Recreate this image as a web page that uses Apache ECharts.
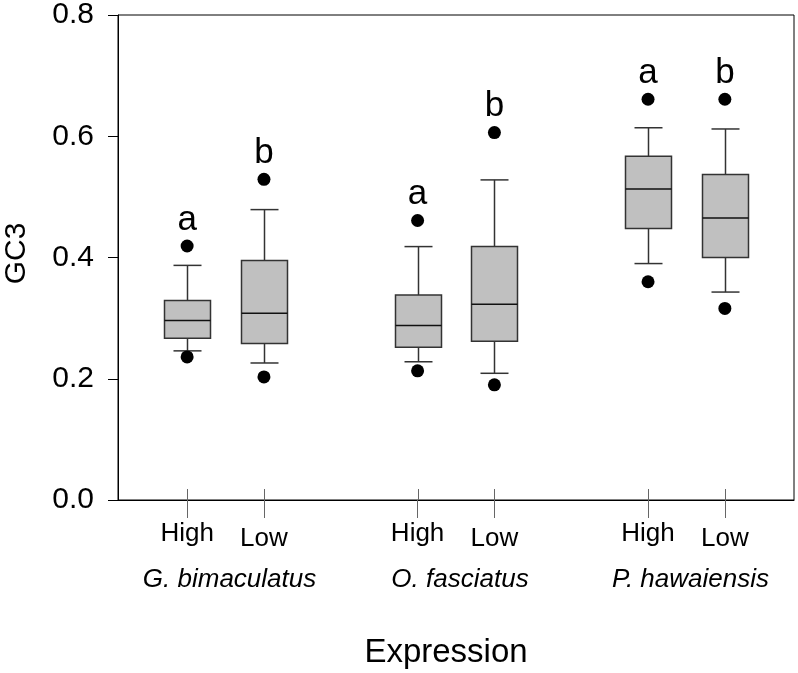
<!DOCTYPE html>
<html>
<head>
<meta charset="utf-8">
<script src="https://cdn.jsdelivr.net/npm/echarts@6/dist/echarts.min.js"></script>
<style>html,body{margin:0;padding:0;background:#fff}#chart{width:798px;height:673px}</style>
</head>
<body>
<div id="chart"></div>
<script>
// ---- data ----
const positions = [1, 2, 4, 5, 7, 8];
const boxLabels = ['High', 'Low', 'High', 'Low', 'High', 'Low'];
const species = ['G. bimaculatus', 'O. fasciatus', 'P. hawaiensis'];
const whiskerLow = [0.246, 0.226, 0.228, 0.209, 0.390, 0.343];
const q1 = [0.267, 0.258, 0.252, 0.262, 0.448, 0.400];
const median = [0.296, 0.308, 0.288, 0.323, 0.513, 0.465];
const q3 = [0.329, 0.395, 0.338, 0.418, 0.567, 0.537];
const whiskerHigh = [0.387, 0.479, 0.418, 0.528, 0.614, 0.612];
const outlierHigh = [0.419, 0.529, 0.461, 0.606, 0.661, 0.661];
const outlierLow = [0.236, 0.203, 0.213, 0.190, 0.360, 0.316];
const letters = ['a', 'b', 'a', 'b', 'a', 'b'];
const yTicks = [0, 0.2, 0.4, 0.6, 0.8];

// ---- styles ----
const FONT = '"Liberation Sans", Arial, sans-serif';
const BOX_W = 46, CAP_W = 28;
const LINE = '#333';

const boxData = positions.map((p, i) => [p, whiskerLow[i], q1[i], median[i], q3[i], whiskerHigh[i]]);
const speciesPos = species.map((s, g) => (positions[2 * g] + positions[2 * g + 1]) / 2);

const chart = echarts.init(document.getElementById('chart'), null, {renderer: 'canvas'});
chart.setOption({
  animation: false,
  backgroundColor: '#fff',
  grid: {left: 118, right: 4, top: 15, bottom: 173, show: true, borderColor: '#000', borderWidth: 1,
    containLabel: false, outerBoundsMode: 'none'},
  xAxis: {
    type: 'value', min: 0.1, max: 8.9,
    name: 'Expression', nameLocation: 'middle', nameGap: 136,
    nameTextStyle: {fontFamily: FONT, fontSize: 33, color: '#000', padding: [0, 20, 0, 0]},
    axisLine: {lineStyle: {color: '#000', width: 1}},
    axisTick: {show: true, customValues: positions, length: 18, lineStyle: {color: '#666', width: 1}},
    axisLabel: {
      customValues: positions, margin: 21, fontFamily: FONT, fontSize: 26, color: '#000',
      formatter: v => {
        const i = positions.indexOf(v);
        const t = boxLabels[i] || '';
        return t === 'Low' ? '{lo|' + t + '}' : '{hi|' + t + '}';
      },
      rich: {
        hi: {fontFamily: FONT, fontSize: 26, color: '#000'},
        lo: {fontFamily: FONT, fontSize: 26, color: '#000', padding: [5, 0, 0, 0]}
      }
    },
    splitLine: {show: false}
  },
  yAxis: {
    type: 'value', min: yTicks[0], max: yTicks[yTicks.length - 1], interval: 0.2,
    name: 'GC3', nameLocation: 'middle', nameGap: 86,
    nameTextStyle: {fontFamily: FONT, fontSize: 30, color: '#000', padding: [0, 0, 0, 8]},
    axisLine: {show: true, lineStyle: {color: '#000', width: 1}},
    axisTick: {show: true, length: 10, lineStyle: {color: '#000', width: 1}},
    axisLabel: {margin: 24, fontFamily: FONT, fontSize: 30, color: '#000', formatter: v => v.toFixed(1)},
    splitLine: {show: false}
  },
  series: [
    {
      type: 'custom',
      data: boxData,
      encode: {x: 0, y: [1, 2, 3, 4, 5]},
      renderItem: (params, api) => {
        const x = api.value(0);
        const pLo = api.coord([x, api.value(1)]);
        const pQ1 = api.coord([x, api.value(2)]);
        const pMed = api.coord([x, api.value(3)]);
        const pQ3 = api.coord([x, api.value(4)]);
        const pHi = api.coord([x, api.value(5)]);
        const base = api.coord([x, 0]);
        const cx = Math.round(pLo[0]) + 0.5;
        const hb = BOX_W / 2, hc = CAP_W / 2;
        const ls = {stroke: LINE, lineWidth: 1.5};
        return {
          type: 'group',
          children: [
            {type: 'line', shape: {x1: cx, y1: pQ1[1], x2: cx, y2: pLo[1]}, style: ls},
            {type: 'line', shape: {x1: cx - hc, y1: pLo[1], x2: cx + hc, y2: pLo[1]}, style: ls},
            {type: 'line', shape: {x1: cx, y1: pQ3[1], x2: cx, y2: pHi[1]}, style: ls},
            {type: 'line', shape: {x1: cx - hc, y1: pHi[1], x2: cx + hc, y2: pHi[1]}, style: ls},
            {type: 'rect', shape: {x: cx - hb, y: pQ3[1], width: BOX_W, height: pQ1[1] - pQ3[1]},
              style: {fill: '#c0c0c0', stroke: LINE, lineWidth: 1.5}},
            {type: 'line', shape: {x1: cx - hb, y1: pMed[1], x2: cx + hb, y2: pMed[1]}, style: {stroke: '#111', lineWidth: 1.5}},
            {type: 'line', shape: {x1: cx, y1: base[1], x2: cx, y2: base[1] - 11}, style: {stroke: '#666', lineWidth: 1}}
          ]
        };
      }
    },
    {
      type: 'scatter',
      data: positions.map((p, i) => [p, outlierHigh[i]]),
      symbol: 'circle', symbolSize: 13,
      itemStyle: {color: '#000', opacity: 1},
      label: {
        show: true, position: 'top', distance: 2,
        formatter: p => letters[p.dataIndex],
        fontFamily: FONT, fontSize: 35, color: '#000'
      }
    },
    {
      type: 'scatter',
      data: positions.map((p, i) => [p, outlierLow[i]]),
      symbol: 'circle', symbolSize: 13,
      itemStyle: {color: '#000', opacity: 1}
    },
    {
      type: 'custom',
      data: speciesPos.map(p => [p, 0]),
      encode: {x: 0, y: 1},
      renderItem: (params, api) => {
        const pt = api.coord([api.value(0), 0]);
        return {
          type: 'text',
          style: {
            text: species[params.dataIndex], x: pt[0] + 4, y: pt[1] + 80,
            align: 'center', verticalAlign: 'middle',
            fontFamily: FONT, fontSize: 26, fontStyle: 'italic', fill: '#000'
          }
        };
      }
    }
  ]
});
</script>
</body>
</html>
